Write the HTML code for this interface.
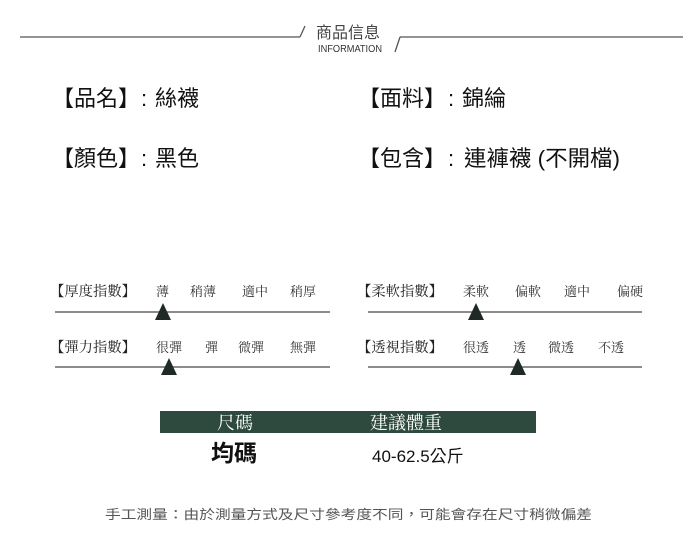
<!DOCTYPE html>
<html><head><meta charset="utf-8"><style>
html,body{margin:0;padding:0;background:#fff;width:700px;height:552px;overflow:hidden}
</style></head><body>
<svg width="700" height="552" xmlns="http://www.w3.org/2000/svg" style="font-family:'Liberation Sans','Noto Sans CJK TC',sans-serif">
<!-- header -->
<line x1="20" y1="37" x2="300" y2="37" stroke="#555" stroke-width="1.3"/>
<line x1="300" y1="37" x2="305" y2="26" stroke="#555" stroke-width="1.3"/>
<line x1="400" y1="37" x2="683" y2="37" stroke="#555" stroke-width="1.3"/>
<line x1="395" y1="52" x2="400" y2="37" stroke="#555" stroke-width="1.3"/>
<text x="316" y="38" font-size="16" fill="#444">商品信息</text>
<text x="318" y="52" font-size="10" fill="#333" textLength="64" lengthAdjust="spacingAndGlyphs">INFORMATION</text>
<!-- info rows -->
<g font-size="22" fill="#111">
<text x="52" y="106" textLength="88" lengthAdjust="spacingAndGlyphs">【品名】</text><text x="141" y="106">:</text><text x="155" y="106">絲襪</text>
<text x="358" y="106" textLength="88" lengthAdjust="spacingAndGlyphs">【面料】</text><text x="448" y="106">:</text><text x="462" y="106">錦綸</text>
<text x="52" y="166" textLength="88" lengthAdjust="spacingAndGlyphs">【顏色】</text><text x="141" y="166">:</text><text x="155" y="166">黑色</text>
<text x="358" y="166" textLength="88" lengthAdjust="spacingAndGlyphs">【包含】</text><text x="448" y="166">:</text><text x="464" y="166" textLength="156" lengthAdjust="spacingAndGlyphs">連褲襪 (不開檔)</text>
</g>
<!-- indices -->
<g font-size="13" fill="#333" font-family="'Liberation Serif','Noto Serif CJK SC',serif">
<text x="50" y="296" font-size="14" fill="#222" textLength="86" lengthAdjust="spacingAndGlyphs">【厚度指數】</text>
<text x="156" y="296">薄</text><text x="190" y="296">稍薄</text><text x="242" y="296">適中</text><text x="290" y="296">稍厚</text>
<text x="50" y="352" font-size="14" fill="#222" textLength="86" lengthAdjust="spacingAndGlyphs">【彈力指數】</text>
<text x="156" y="352">很彈</text><text x="205" y="352">彈</text><text x="238" y="352">微彈</text><text x="290" y="352">無彈</text>
<text x="357" y="296" font-size="14" fill="#222" textLength="86" lengthAdjust="spacingAndGlyphs">【柔軟指數】</text>
<text x="463" y="296">柔軟</text><text x="515" y="296">偏軟</text><text x="564" y="296">適中</text><text x="617" y="296">偏硬</text>
<text x="357" y="352" font-size="14" fill="#222" textLength="86" lengthAdjust="spacingAndGlyphs">【透視指數】</text>
<text x="463" y="352">很透</text><text x="513" y="352">透</text><text x="548" y="352">微透</text><text x="598" y="352">不透</text>
</g>
<g stroke="#666" stroke-width="1.5">
<line x1="55" y1="312" x2="330" y2="312"/>
<line x1="55" y1="367" x2="330" y2="367"/>
<line x1="368" y1="312" x2="642" y2="312"/>
<line x1="368" y1="367" x2="642" y2="367"/>
</g>
<g fill="#1f2a24">
<polygon points="163,303 155,320 171,320"/>
<polygon points="169,358 161,375 177,375"/>
<polygon points="476,303 468,320 484,320"/>
<polygon points="518,358 510,375 526,375"/>
</g>
<!-- table -->
<rect x="160" y="411" width="376" height="22" fill="#2e4a3f"/>
<g font-family="'Liberation Serif','Noto Serif CJK SC',serif" font-size="18" fill="#fff">
<text x="217" y="429">尺碼</text>
<text x="370" y="429">建議體重</text>
</g>
<text x="211" y="461" font-size="23" font-weight="bold" fill="#111">均碼</text>
<text x="372" y="462" font-size="17" fill="#111">40-62.5公斤</text>
<text x="105" y="519" font-size="13" fill="#555" textLength="487" lengthAdjust="spacingAndGlyphs">手工測量：由於測量方式及尺寸參考度不同，可能會存在尺寸稍微偏差</text>
</svg>
</body></html>
